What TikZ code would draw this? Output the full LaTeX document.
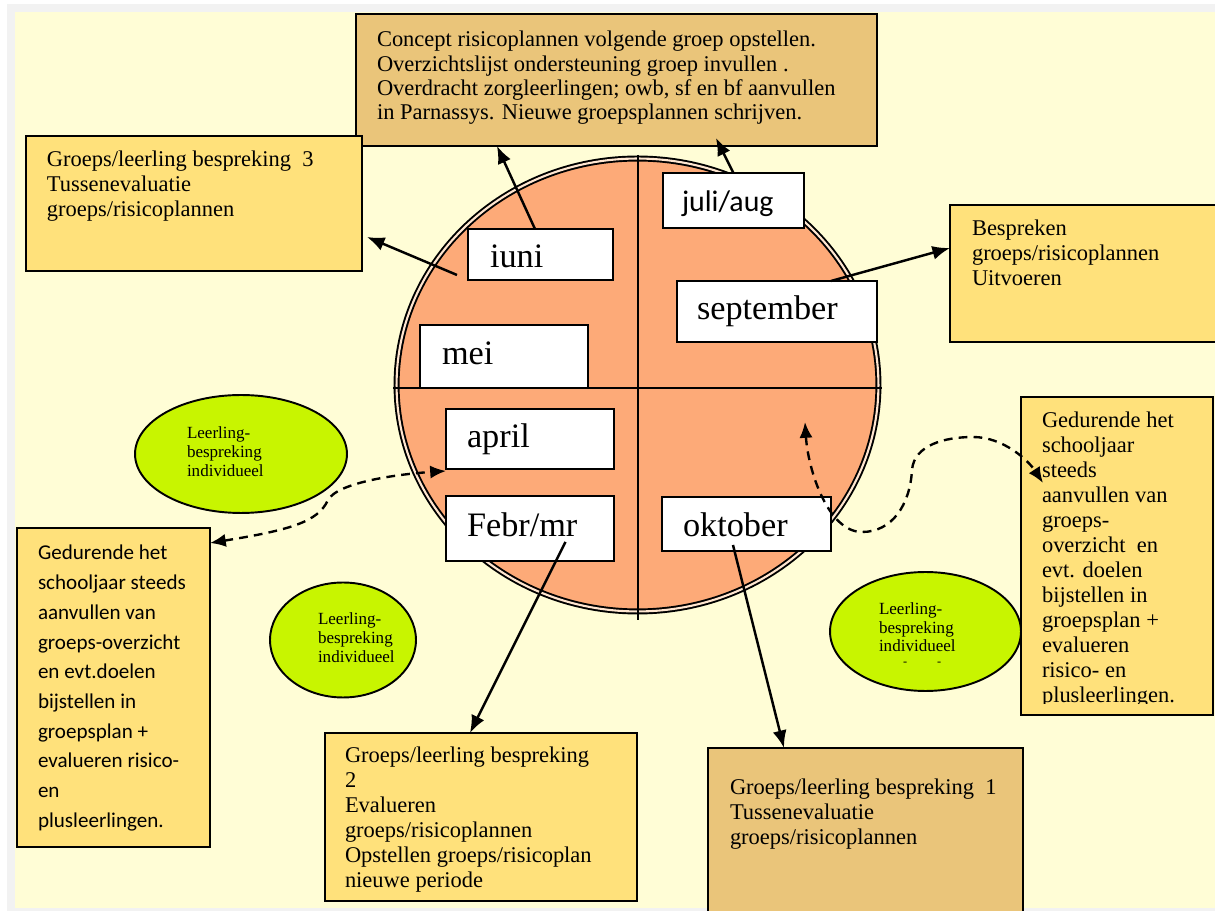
\documentclass[tikz,border=0pt]{standalone}
\usepackage{fontspec}
\setmainfont{Liberation Serif}
\newfontfamily\carlito{Carlito}
\usetikzlibrary{arrows.meta,shapes.geometric,calc}
\definecolor{bggray}{HTML}{F2F2F2}
\definecolor{bgyellow}{HTML}{FFFDD6}
\definecolor{boxyellow}{HTML}{FFE17B}
\definecolor{boxtan}{HTML}{EAC57A}
\definecolor{salmon}{HTML}{FDAA78}
\definecolor{peach}{HTML}{FFE6D0}
\definecolor{limegreen}{HTML}{C8F500}
\newcommand\txtblk[3]{\parbox[t]{14cm}{\raggedright\fontsize{#1}{#2}\selectfont #3}}
\newcommand\txtblkc[3]{\parbox[t]{14cm}{\raggedright\carlito\fontsize{#1}{#2}\selectfont #3}}
\begin{document}
\begin{tikzpicture}[x=0.02cm,y=-0.02cm,
  box/.style={draw=black, line width=1.1pt, anchor=north west, inner sep=0pt, outer sep=0pt},
  ybox/.style={box, fill=boxyellow},
  tbox/.style={box, fill=boxtan, line width=1.5pt},
  mbox/.style={box, fill=white, line width=0.8pt},
  gell/.style={ellipse, draw=black, line width=1.1pt, fill=limegreen, inner sep=0pt, outer sep=0pt},
  txt/.style={inner sep=0pt, outer sep=0pt, anchor=base west},
  mtxt/.style={txt, font=\fontsize{19.5}{22}\selectfont},
  arr/.style={line width=1.4pt, -{Latex[length=10pt,width=8pt]}},
  darr/.style={line width=1.35pt, dash pattern=on 5pt off 3.5pt, {Latex[length=9pt,width=7.5pt]}-{Latex[length=9pt,width=7.5pt]}},
]
\useasboundingbox (0,0) rectangle (1215,911);
\fill[bggray] (7,4) rectangle (1215,911);
\fill[bgyellow] (15,12) rectangle (1215,908);

% big boxes
\node[tbox, minimum width=10.42cm, minimum height=2.64cm] (topbox) at (356,14) {};
\node[ybox, minimum width=6.72cm, minimum height=2.70cm] (g3box) at (26,136) {};
\node[ybox, minimum width=5.6cm, minimum height=2.74cm] (besbox) at (950,205) {};
\node[ybox, minimum width=3.84cm, minimum height=6.36cm] (rtbox) at (1021,397) {};
\node[ybox, minimum width=3.86cm, minimum height=6.38cm] (ltbox) at (17,528) {};
\node[ybox, minimum width=6.24cm, minimum height=3.36cm] (g2box) at (325,733) {};
\node[tbox, minimum width=6.30cm, minimum height=3.6cm] (g1box) at (708,748) {};

% wheel
\filldraw[fill=salmon, draw=black, line width=1.1pt, double=peach, double distance=1.2pt]
  (637.5,385) ellipse [x radius=4.82cm, y radius=4.53cm];
\draw[line width=0.9pt] (638,155) -- (638,620);
\draw[line width=0.9pt] (393,388) -- (882,388);

% month boxes
\node[mbox, minimum width=2.82cm, minimum height=1.10cm] (julibox) at (663,173) {};
\node[mbox, minimum width=2.90cm, minimum height=1.02cm] (iunibox) at (468,229) {};
\node[mbox, minimum width=4.00cm, minimum height=1.22cm] (sepbox) at (677,281) {};
\node[mbox, minimum width=3.36cm, minimum height=1.26cm] (meibox) at (420,325) {};
\node[mbox, minimum width=3.36cm, minimum height=1.20cm] (aprbox) at (446,409) {};
\node[mbox, minimum width=3.36cm, minimum height=1.30cm] (febbox) at (446,496) {};
\node[mbox, minimum width=3.38cm, minimum height=1.08cm] (oktbox) at (662,497) {};

\node[txt, font=\carlito\fontsize{17}{20}\selectfont] (julit) at (682,212) {juli/aug};
\node[mtxt] (iunit) at (490,268) {iuni};
\node[mtxt] (sept) at (697,320) {september};
\node[mtxt] (meit) at (442,365) {mei};
\node[mtxt] (aprt) at (467,448) {april};
\node[mtxt] (febt) at (467,537) {Febr/mr};
\node[mtxt] (oktt) at (683,537) {oktober};

% ellipses
\node[gell, minimum width=4.24cm, minimum height=2.36cm] (e1) at (241,454) {};
\node[gell, minimum width=2.92cm, minimum height=2.30cm] (e2) at (343,640) {};
\node[gell, minimum width=3.82cm, minimum height=2.38cm] (e3) at (925.5,631.5) {};
\node[txt] (e1t) at (187,439) {\txtblk{9.7}{10.8}{Leerling-\\bespreking\\individueel}};
\node[txt] (e2t) at (318,625) {\txtblk{9.7}{10.8}{Leerling-\\bespreking\\individueel}};
\node[txt] (e3t) at (879,615) {\txtblk{9.7}{10.5}{Leerling-\\bespreking\\individueel}};
\node[txt, font=\fontsize{7}{8}\selectfont] (e3d) at (903,666) {-\hspace{0.6cm}-};

% box texts
\node[txt] (toptxt) at (377,47) {\txtblk{12.8}{13.8}{Concept risicoplannen volgende groep opstellen.\\Overzichtslijst ondersteuning groep invullen .\\Overdracht zorgleerlingen; owb, sf en bf aanvullen\\in Parnassys. Nieuwe groepsplannen schrijven.}};
\node[txt] (g3txt) at (47,167) {\txtblk{12.8}{14.2}{Groeps/leerling bespreking\ \ 3\\Tussenevaluatie\\groeps/risicoplannen}};
\node[txt] (bestxt) at (972,236) {\txtblk{12.8}{14.2}{Bespreken\\groeps/risicoplannen\\Uitvoeren}};
\begin{scope}
\clip (1021,397) rectangle (1213,704);
\node[txt] (rttxt) at (1042,428) {\txtblk{12.8}{14.2}{Gedurende het\\schooljaar\\steeds\\aanvullen van\\groeps-\\overzicht\ \ en\\evt. doelen\\bijstellen in\\groepsplan +\\evalueren\\risico- en\\plusleerlingen.}};
\end{scope}
\node[txt] (lttxt) at (38,560) {\txtblkc{12}{16.9}{Gedurende het\\schooljaar steeds\\aanvullen van\\groeps-overzicht\\en evt.doelen\\bijstellen in\\groepsplan +\\evalueren risico-\\en\\plusleerlingen.}};
\node[txt] (g2txt) at (345,763) {\txtblk{12.8}{14.2}{Groeps/leerling bespreking\\2\\Evalueren\\groeps/risicoplannen\\Opstellen groeps/risicoplan\\nieuwe periode}};
\node[txt] (g1txt) at (730,795) {\txtblk{12.8}{14.2}{Groeps/leerling bespreking\ \ 1\\Tussenevaluatie\\groeps/risicoplannen}};

% arrows
\draw[arr] ([xshift=-0.11cm]iunibox.north) -- ([xshift=-2.39cm]topbox.south);
\draw[arr] (julibox.north) -- ([xshift=1.99cm,yshift=0.16cm]topbox.south);
\draw[arr] ([xshift=-0.22cm,yshift=0.1cm]iunibox.south west) -- ([xshift=0.1cm,yshift=-0.67cm]g3box.east);
\draw[arr] ([xshift=1.08cm]sepbox.north) -- ([yshift=0.51cm]besbox.west);
\draw[arr] ([xshift=0.71cm,yshift=-0.27cm]febbox.center) -- ([xshift=-0.22cm]g2box.north);
\draw[arr] ([xshift=-0.27cm,yshift=-0.42cm]oktbox.center) -- ([xshift=-1.63cm]g1box.north);

% dashed connectors
\draw[darr] ([yshift=-0.3cm]ltbox.north east) .. controls (290,530) and (318,522) .. (328,500)
  .. controls (338,482) and (400,474) .. ([yshift=-0.04cm]aprbox.south west);
\coordinate (dstart) at (805,422);
\draw[darr] (dstart) .. controls (808,470) and (828,532) .. (862,532)
  .. controls (892,532) and (910,505) .. (912,470)
  .. controls (914,445) and (945,437) .. (973,437)
  .. controls (1003,437) and (1028,460) .. ([xshift=0.44cm,yshift=-1.72cm]rtbox.north west);
\end{tikzpicture}
\end{document}
